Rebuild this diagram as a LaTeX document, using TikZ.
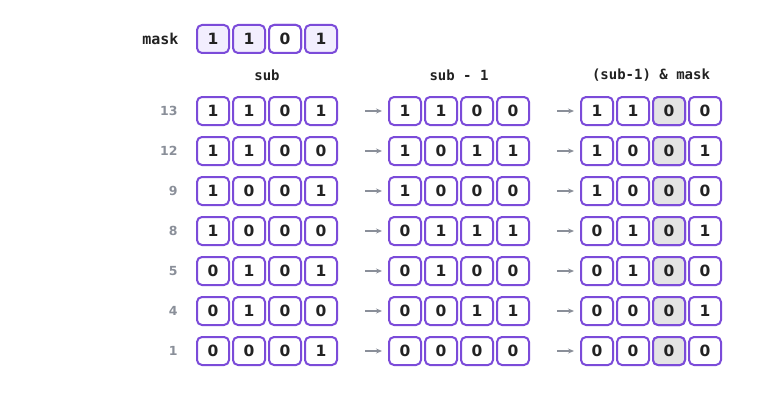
\documentclass[tikz,border=0pt]{standalone}
\usepackage{fontspec}
\setmainfont{DejaVu Sans}
\newfontfamily\codefont{DejaVu Sans Mono}
\usetikzlibrary{arrows.meta,positioning}
\definecolor{boxline}{HTML}{7B4BD9}
\definecolor{maskfill}{HTML}{F2EEFE}
\definecolor{offfill}{HTML}{E4E4E4}
\definecolor{labgray}{HTML}{8A8F99}
\definecolor{ink}{HTML}{222222}
\tikzset{
  bitbox/.style={draw=boxline, line width=2pt, rounded corners=5pt, fill=white,
    minimum width=32pt, minimum height=28pt, inner sep=0pt,
    font=\fontsize{15.5}{15.5}\selectfont\bfseries, text=ink},
  headlabel/.style={font=\codefont\fontsize{14}{14}\selectfont\bfseries, text=ink},
  rowlabel/.style={font=\fontsize{12.5}{12.5}\selectfont\bfseries, text=labgray, anchor=east},
  steparrow/.style={-{Stealth[length=6pt,width=5pt]}, labgray, line width=1.6pt}
}
\begin{document}
\begin{tikzpicture}[x=1pt,y=-1pt]
\useasboundingbox (0,0) rectangle (784,404);
\node[headlabel, anchor=east, font=\codefont\fontsize{15}{15}\selectfont\bfseries] (masklabel) at (182,39) {mask};
\foreach \d [count=\i] in {1,1,0,1}
  \node[bitbox, fill=maskfill] (m-\i) at (177+36*\i,39) {\d};
\node[fill=offfill, bitbox] at (m-3) {0};
\node[headlabel] (hsub) at (267,75) {sub};
\node[headlabel] (hprev) at (459,75) {sub - 1};
\node[headlabel] (hres) at (651,75) {(sub-1) \& mask};
\foreach \v/\s/\p/\a [count=\r] in {13/{1,1,0,1}/{1,1,0,0}/{1,1,0,0},
    12/{1,1,0,0}/{1,0,1,1}/{1,0,0,1},
    9/{1,0,0,1}/{1,0,0,0}/{1,0,0,0},
    8/{1,0,0,0}/{0,1,1,1}/{0,1,0,1},
    5/{0,1,0,1}/{0,1,0,0}/{0,1,0,0},
    4/{0,1,0,0}/{0,0,1,1}/{0,0,0,1},
    1/{0,0,0,1}/{0,0,0,0}/{0,0,0,0}}{
  \node[rowlabel] (n\r) at (181,71+40*\r) {\v};
  \foreach \d [count=\i] in \s
    \node[bitbox] (s\r-\i) at (177+36*\i,71+40*\r) {\d};
  \foreach \d [count=\i] in \p
    \node[bitbox] (p\r-\i) at (369+36*\i,71+40*\r) {\d};
  \foreach \d [count=\i] in \a
    \node[bitbox] (a\r-\i) at (561+36*\i,71+40*\r) {\d};
  \node[bitbox, fill=offfill] at (a\r-3) {0};
  \draw[steparrow, shorten <=27pt, shorten >=6pt] (s\r-4.east) -- (p\r-1.west);
  \draw[steparrow, shorten <=27pt, shorten >=6pt] (p\r-4.east) -- (a\r-1.west);
}
\end{tikzpicture}
\end{document}
